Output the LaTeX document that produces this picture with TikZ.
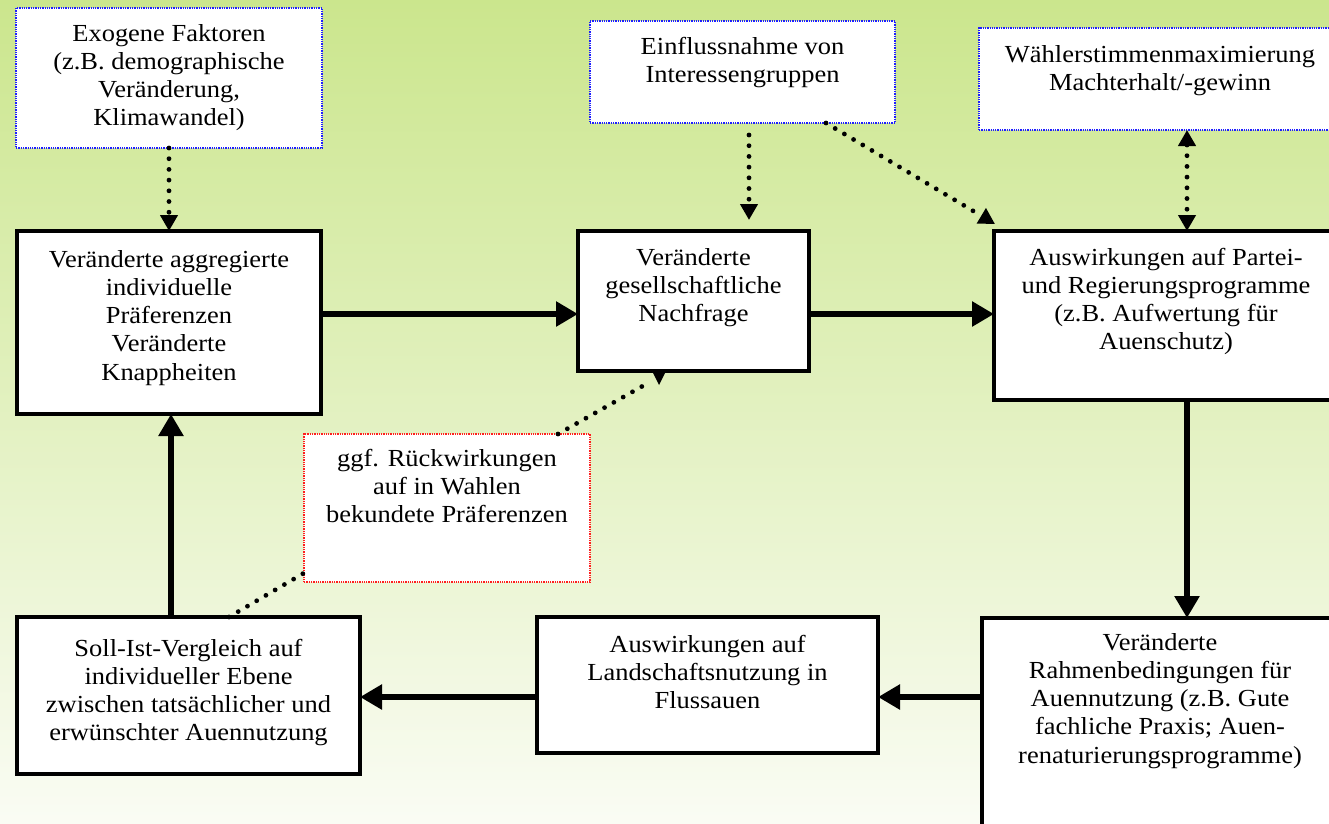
\documentclass[tikz,border=0pt]{standalone}
\usepackage{fontspec}
\setmainfont{Liberation Serif}[FakeStretch=1.08]
\usetikzlibrary{arrows.meta}
\definecolor{bgtop}{RGB}{203,230,141}
\definecolor{bgbot}{RGB}{250,252,244}
\definecolor{dotblue}{RGB}{30,30,255}
\definecolor{dotred}{RGB}{255,30,30}
\begin{document}
\begin{tikzpicture}[x=1pt,y=-1pt,
  thickbox/.style={draw=black, line width=4.5pt, fill=white, inner sep=0pt, outer sep=0pt, anchor=north west},
  bluebox/.style={draw=dotblue, densely dotted, line width=1.3pt, fill=white, inner sep=0pt, outer sep=0pt, anchor=north west},
  redbox/.style={bluebox, draw=dotred},
  txt/.style={align=center, inner sep=0pt, anchor=north, font=\fontsize{24.5}{28.3}\selectfont},
  bigarrow/.style={line width=6.5pt, -{Triangle[length=22pt,width=24pt]}},
  dotline/.style={line width=4.8pt, line cap=round, dash pattern=on 0pt off 10.7pt},
  dotarrow/.style={dotline, -{Triangle[length=16pt,width=17pt]}},
  dotboth/.style={dotline, {Triangle[length=16pt,width=17pt]}-{Triangle[length=16pt,width=17pt]}}
]
\useasboundingbox (0,0) rectangle (1329,823);
\clip (0,0) rectangle (1329,823);
\shade[top color=bgtop, bottom color=bgbot] (0,0) rectangle (1329,823);

\coordinate (yTop) at (0,314);
\coordinate (yBot) at (0,697);
\coordinate (xL) at (171,0);
\coordinate (xR) at (1187,0);

% dotted boxes
\node[bluebox, minimum width=306pt, minimum height=140pt] (Exo) at (16,8) {};
\node[txt] (ExoT) at (169,21) {\strut Exogene Faktoren\\(z.B. demographische\\Veränderung,\\Klimawandel)};
\node[bluebox, minimum width=305pt, minimum height=102pt] (Ein) at (590,21) {};
\node[txt] (EinT) at (742.5,34) {\strut Einflussnahme von\\Interessengruppen};
\node[bluebox, minimum width=362pt, minimum height=102pt] (Wah) at (979,28) {};
\node[txt] (WahT) at (1160,42) {\strut Wählerstimmenmaximierung\\Machterhalt/-gewinn};
\node[redbox, minimum width=286pt, minimum height=148pt] (Red) at (304,434) {};
\node[txt] (RedT) at (447,446) {\strut ggf. Rückwirkungen\\auf in Wahlen\\bekundete Präferenzen};

% main boxes
\node[thickbox, minimum width=304pt, minimum height=183pt] (A) at (17,231) {};
\node[txt] (AT) at (169,247) {\strut Veränderte aggregierte\\individuelle\\Präferenzen\\Veränderte\\Knappheiten};
\node[thickbox, minimum width=231pt, minimum height=140pt] (B) at (578,231) {};
\node[txt] (BT) at (693.5,245) {\strut Veränderte\\gesellschaftliche\\Nachfrage};
\node[thickbox, minimum width=344pt, minimum height=169pt] (C) at (994,231) {};
\node[txt] (CT) at (1166,245) {\strut Auswirkungen auf Partei-\\und Regierungsprogramme\\(z.B. Aufwertung für\\Auenschutz)};
\node[thickbox, minimum width=356pt, minimum height=232pt] (F) at (982,618) {};
\node[txt] (FT) at (1160,630) {\strut Veränderte\\Rahmenbedingungen für\\Auennutzung (z.B. Gute\\fachliche Praxis; Auen-\\renaturierungsprogramme)};
\node[thickbox, minimum width=341pt, minimum height=136pt] (E) at (537,617) {};
\node[txt] (ET) at (707.5,632) {\strut Auswirkungen auf\\Landschaftsnutzung in\\Flussauen};
\node[thickbox, minimum width=343pt, minimum height=157pt] (D) at (17,617) {};
\node[txt] (DT) at (188.5,636) {\strut Soll-Ist-Vergleich auf\\individueller Ebene\\zwischen tatsächlicher und\\erwünschter Auennutzung};

% thick arrows
\draw[bigarrow] (A.east |- yTop) -- (B.west |- yTop);
\draw[bigarrow] (B.east |- yTop) -- (C.west |- yTop);
\draw[bigarrow] (xR |- C.south) -- (xR |- F.north);
\draw[bigarrow] (F.west |- yBot) -- (E.east |- yBot);
\draw[bigarrow] (E.west |- yBot) -- (D.east |- yBot);
\draw[bigarrow] (xL |- D.north) -- (xL |- A.south);

% dotted connectors
\draw[dotarrow] (Exo.south) -- (A.north);
\draw[dotarrow] ([xshift=6.5pt,yshift=-12pt]Ein.south) -- ([xshift=55.5pt,yshift=11pt]B.north);
\draw[dotarrow] ([xshift=83.5pt]Ein.south) -- ([xshift=1pt,yshift=7pt]C.north west);
\draw[dotboth] (xR |- Wah.south) -- (xR |- C.north);
\draw[dotline] ([xshift=40.5pt]D.north) -- ([yshift=9pt]Red.south west);
\draw[dotline] ([xshift=-32pt]Red.north east) -- ([xshift=-45.5pt,yshift=-12pt]B.south);
\fill ([xshift=-41.5pt]B.south) -- ([xshift=-27.5pt]B.south) -- ([xshift=-34.5pt,yshift=-14pt]B.south) -- cycle;
\end{tikzpicture}
\end{document}
